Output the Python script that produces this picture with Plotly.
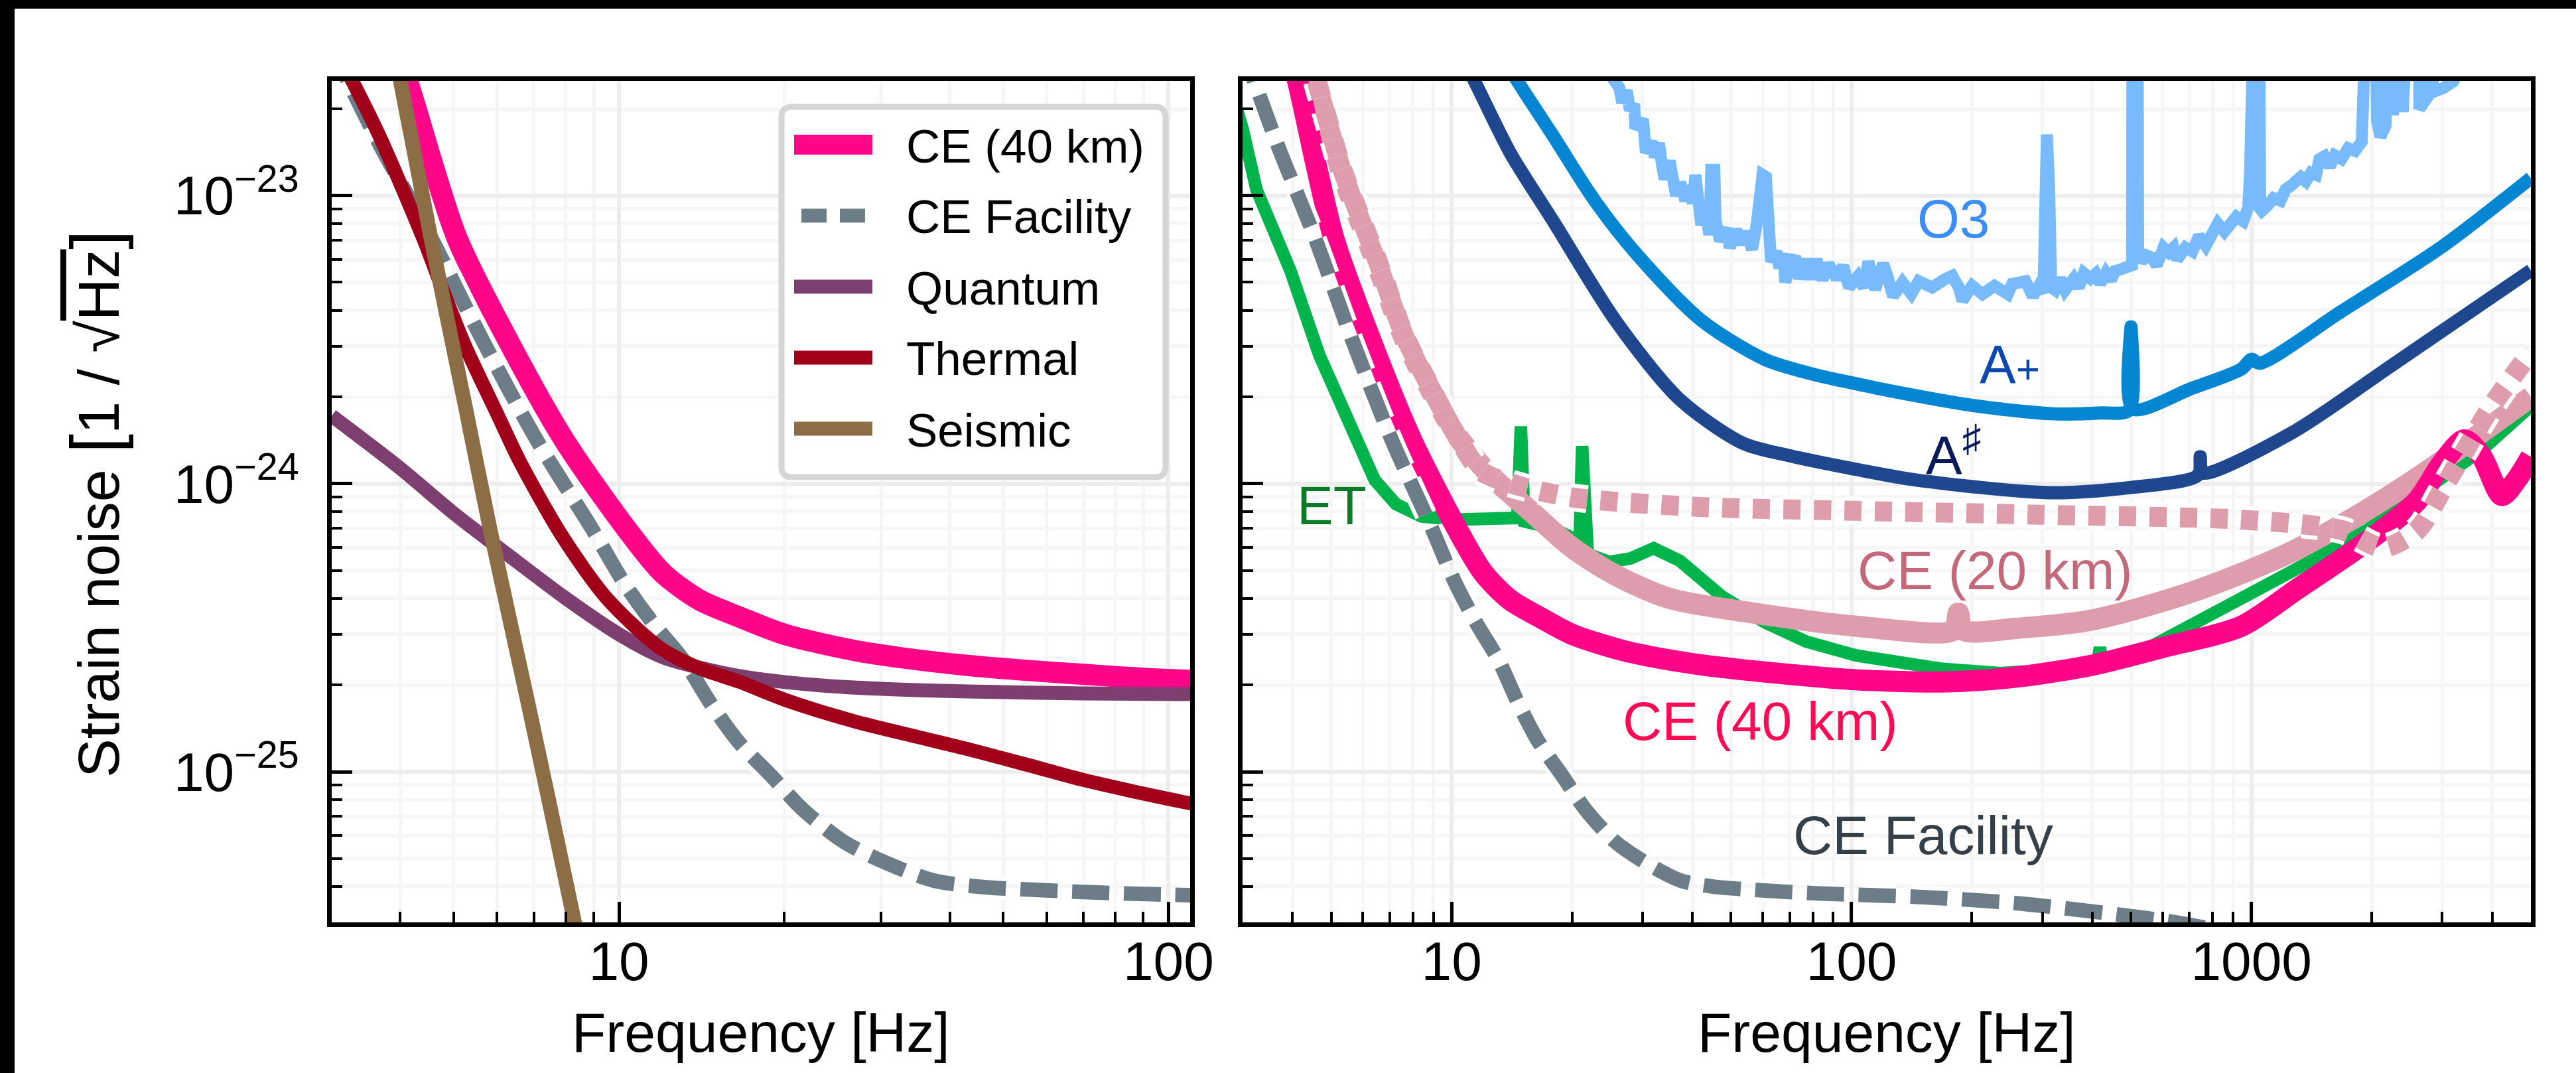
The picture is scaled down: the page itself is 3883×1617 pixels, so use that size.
import math
import plotly.graph_objects as go

W, H = 3883, 1617

# ---------------- data ----------------
# Left panel: CE (40 km) noise budget
ce40_f = [3.9, 4.12, 5.06, 6.25, 7.94, 10.3, 12.0, 14.0, 16.6, 20.0, 26.7, 33.0, 43.0, 55.0, 69.5, 100.0,
          167.0, 250.0, 398.0, 600.0, 944.0, 1300.0, 1946.0, 2594.0, 3000.0, 3411.0, 3770.0, 4230.0, 4600.0, 5000.0]
ce40_h = [3.3e-23, 2.5e-23, 7.2e-24, 3.2e-24, 1.42e-24, 7.0e-25, 4.9e-25, 3.95e-25, 3.44e-25, 3.0e-25, 2.64e-25,
          2.48e-25, 2.34e-25, 2.25e-25, 2.18e-25, 2.09e-25, 2.05e-25, 2.12e-25, 2.34e-25, 2.7e-25, 3.2e-25, 4.3e-25,
          6.3e-25, 8.7e-25, 1.18e-24, 1.42e-24, 1.24e-24, 9.1e-25, 1.03e-24, 1.24e-24]

cefac_f = [3.0, 3.21, 3.67, 4.54, 5.62, 7.08, 8.92, 10.2, 11.5, 13.1, 14.7, 16.5, 19.0, 21.6, 25.7, 30.6, 37.4,
           45.9, 55.6, 68.5, 83.5, 102.0, 145.0, 257.0, 458.0, 648.0, 900.0]
cefac_h = [3.3e-23, 2.5e-23, 1.5e-23, 7.2e-24, 3.2e-24, 1.42e-24, 7.0e-25, 4.54e-25, 3.3e-25, 2.44e-25, 1.72e-25,
           1.27e-25, 9.6e-26, 7.4e-26, 5.7e-26, 4.83e-26, 4.19e-26, 3.98e-26, 3.9e-26, 3.83e-26, 3.78e-26, 3.74e-26,
           3.68e-26, 3.5e-26, 3.2e-26, 3.0e-26, 2.75e-26]

quantum_f = [3.0, 4.0, 5.0, 6.25, 8.0, 10.0, 12.0, 14.0, 17.0, 22.8, 30.0, 43.0, 70.0, 110.0]
quantum_h = [1.72e-24, 1.13e-24, 7.9e-25, 5.7e-25, 4.0e-25, 3.0e-25, 2.5e-25, 2.3e-25, 2.13e-25, 2.0e-25,
             1.94e-25, 1.9e-25, 1.87e-25, 1.86e-25]

thermal_f = [3.0, 3.27, 3.67, 4.39, 4.8, 5.25, 6.0, 6.59, 7.87, 9.5, 11.85, 13.9, 16.6, 20.0, 26.7, 35.0, 43.0,
             55.0, 69.5, 85.0, 110.0]
thermal_h = [3.4e-23, 2.5e-23, 1.6e-23, 7.2e-24, 4.6e-24, 3.0e-24, 1.75e-24, 1.2e-24, 6.6e-25, 4.0e-25, 2.7e-25,
             2.3e-25, 2.05e-25, 1.78e-25, 1.5e-25, 1.32e-25, 1.2e-25, 1.06e-25, 9.4e-26, 8.6e-26, 7.75e-26]

seismic_f = [3.8, 4.0, 4.54, 5.25, 5.83, 6.83, 8.3, 8.7]
seismic_h = [4.0e-23, 2.5e-23, 7.2e-24, 1.86e-24, 6.9e-25, 1.73e-25, 3.0e-26, 1.9e-26]

# Right panel: detector comparison
o3_f = [22.0, 25.2, 26.3, 26.7, 27.4, 27.9, 28.6, 28.8, 30.1, 30.6, 31.7, 32.2, 33.0, 33.6, 34.1, 35.1, 35.7,
        36.4, 37.3, 38.4, 39.2, 40.1, 40.7, 41.3, 42.1, 43.1, 44.1, 44.6, 45.4, 45.7, 46.9, 48.6, 49.6, 51.5,
        53.5, 54.7, 56.4, 57.9, 58.9, 59.9, 61.1, 61.9, 62.9, 64.9, 66.0, 67.5, 68.3, 70.3, 72.3, 74.0, 76.6,
        79.0, 81.7, 84.6, 87.5, 91.8, 95.3, 98.6, 103.8, 107.4, 110.2, 114.6, 120.0, 123.1, 127.0, 134.1, 141.1,
        147.3, 159.1, 170.3, 178.6, 185.5, 189.4, 200.3, 212.6, 227.7, 245.9, 252.3, 272.4, 284.2, 294.1, 302.0,
        305.0, 308.0, 312.0, 316.0, 323.0, 332.5, 342.0, 359.5, 370.0, 381.0, 396.0, 408.0, 418.7, 432.8, 445.6,
        456.0, 472.0, 491.0, 503.0, 505.0, 518.0, 521.0, 531.0, 547.0, 563.0, 580.0, 603.0, 621.0, 639.0, 652.0,
        684.0, 712.0, 740.0, 769.0, 800.0, 824.0, 856.0, 882.0, 917.0, 954.0, 982.0, 992.0, 1015.0, 1040.0,
        1052.0, 1062.0, 1094.0, 1137.0, 1182.0, 1217.0, 1253.0, 1290.0, 1329.0, 1368.0, 1409.0, 1451.0, 1480.0,
        1523.0, 1569.0, 1616.0, 1680.0, 1747.0, 1816.0, 1888.0, 1905.0, 2010.0, 2062.0, 2102.0, 2165.0, 2186.0,
        2230.0, 2260.0, 2300.0, 2350.0, 2390.0, 2430.0, 2600.0, 2631.0, 2709.0, 2790.0, 2817.0, 2873.0, 3016.0,
        3198.0, 3325.0]
o3_h = [3.4e-23, 2.49e-23, 2.36e-23, 2.10e-23, 2.32e-23, 1.98e-23, 2.08e-23, 1.71e-23, 1.84e-23, 1.41e-23,
        1.54e-23, 1.36e-23, 1.52e-23, 1.27e-23, 1.14e-23, 1.32e-23, 1.12e-23, 1.00e-23, 1.11e-23, 9.6e-24,
        1.08e-23, 9.4e-24, 1.18e-23, 9.1e-24, 7.9e-24, 9.1e-24, 7.3e-24, 1.23e-23, 1.23e-23, 8.2e-24, 6.96e-24,
        7.7e-24, 6.6e-24, 7.6e-24, 6.8e-24, 7.5e-24, 6.5e-24, 7.9e-24, 9.1e-24, 1.18e-23, 1.16e-23, 7.6e-24,
        5.9e-24, 6.4e-24, 5.6e-24, 6.3e-24, 5.0e-24, 5.8e-24, 6.15e-24, 5.15e-24, 6.0e-24, 5.15e-24, 6.0e-24,
        5.1e-24, 5.8e-24, 5.15e-24, 5.7e-24, 4.8e-24, 5.24e-24, 4.8e-24, 5.9e-24, 4.72e-24, 5.8e-24, 5.24e-24,
        4.47e-24, 5.0e-24, 4.56e-24, 5.05e-24, 4.8e-24, 5.1e-24, 5.27e-24, 4.8e-24, 4.32e-24, 4.86e-24, 4.55e-24,
        4.86e-24, 4.55e-24, 4.94e-24, 5.04e-24, 4.47e-24, 4.86e-24, 4.6e-24, 1.63e-23, 1.63e-23, 1.07e-23,
        4.8e-24, 4.7e-24, 5.15e-24, 4.7e-24, 5.15e-24, 4.8e-24, 5.38e-24, 5.15e-24, 5.35e-24, 4.95e-24, 5.4e-24,
        5.1e-24, 5.47e-24, 5.55e-24, 5.73e-24, 5.73e-24, 2e-22, 2e-22, 6.4e-24, 5.9e-24, 6.2e-24, 6.1e-24,
        5.73e-24, 6.6e-24, 6.35e-24, 6.6e-24, 6.0e-24, 6.6e-24, 6.4e-24, 7.25e-24, 6.7e-24, 7.4e-24, 8.0e-24,
        7.5e-24, 7.85e-24, 8.45e-24, 8.15e-24, 9.1e-24, 1.2e-23, 2e-22, 2e-22, 9.0e-24, 8.85e-24, 9.2e-24,
        9.8e-24, 9.6e-24, 1.05e-23, 1.08e-23, 1.12e-23, 1.16e-23, 1.12e-23, 1.2e-23, 1.18e-23, 1.34e-23,
        1.37e-23, 1.26e-23, 1.38e-23, 1.34e-23, 1.46e-23, 1.43e-23, 1.54e-23, 2e-22, 2e-22, 1.81e-23, 1.6e-23,
        1.75e-23, 2e-22, 2e-22, 1.9e-23, 2e-22, 2e-22, 1.95e-23, 2e-22, 2e-22, 2.0e-23, 2.17e-23, 2.25e-23,
        2.6e-23, 2.3e-23, 2.36e-23, 2.49e-23, 2.8e-23]

aplus_f = [13.5, 14.6, 17.9, 22.8, 29.2, 42.0, 60.7, 80.0, 103.0, 125.0, 200.0, 315.0, 420.0, 495.0, 500.0,
           505.0, 708.0, 944.0, 1000.0, 1050.0, 1683.0, 3000.0, 5000.0]
aplus_h = [3.0e-23, 2.5e-23, 1.62e-23, 9.6e-24, 6.2e-24, 3.7e-24, 2.7e-24, 2.4e-24, 2.22e-24, 2.1e-24, 1.87e-24,
           1.75e-24, 1.76e-24, 1.8e-24, 3.5e-24, 1.82e-24, 2.14e-24, 2.5e-24, 2.7e-24, 2.62e-24, 3.97e-24,
           6.65e-24, 1.15e-23]

asharp_f = [10.5, 11.4, 14.0, 17.9, 25.8, 37.2, 53.6, 70.0, 103.0, 145.0, 315.0, 500.0, 735.0, 745.0, 755.0,
            1260.0, 2240.0, 5000.0]
asharp_h = [3.1e-23, 2.5e-23, 1.41e-23, 8.2e-24, 3.65e-24, 1.96e-24, 1.38e-24, 1.25e-24, 1.12e-24, 1.03e-24,
            9.3e-25, 9.7e-25, 1.07e-24, 1.24e-24, 1.09e-24, 1.5e-24, 2.57e-24, 5.5e-24]

et_f = [2.9, 3.0, 3.25, 3.95, 4.67, 5.67, 6.42, 7.25, 8.4, 10.2, 12.0, 14.3, 14.6, 14.9, 15.2, 17.9, 20.2, 20.9,
        21.2, 21.5, 21.9, 24.8, 28.0, 32.0, 37.2, 47.4, 60.7, 77.0, 103.0, 167.0, 237.0, 300.0, 412.0, 418.0,
        424.0, 500.0, 708.0, 1000.0, 1260.0, 1946.0, 2600.0, 3000.0, 3770.0, 5000.0]
et_h = [2.0e-23, 1.71e-23, 1.05e-23, 5.5e-24, 2.79e-24, 1.5e-24, 1.03e-24, 8.5e-25, 7.7e-25, 7.5e-25, 7.5e-25,
        7.5e-25, 7.6e-25, 1.58e-24, 7.4e-25, 7.0e-25, 6.5e-25, 6.3e-25, 1.35e-24, 6.1e-25, 5.7e-25, 5.35e-25,
        5.5e-25, 5.97e-25, 5.4e-25, 4.06e-25, 3.3e-25, 2.83e-25, 2.53e-25, 2.28e-25, 2.2e-25, 2.25e-25, 2.38e-25,
        2.7e-25, 2.4e-25, 2.5e-25, 3.2e-25, 4.2e-25, 4.95e-25, 6.9e-25, 9.0e-25, 1.05e-24, 1.31e-24, 1.86e-24]

ce20_f = [4.3, 4.56, 5.27, 5.67, 6.59, 7.61, 8.82, 10.2, 12.4, 15.8, 20.0, 25.8, 35.0, 53.6, 103.0, 180.0,
          185.0, 190.0, 260.0, 398.0, 708.0, 1260.0, 2000.0, 3000.0, 4000.0, 5000.0]
ce20_h = [3.3e-23, 2.5e-23, 1.24e-23, 9.4e-24, 5.5e-24, 3.2e-24, 2.14e-24, 1.5e-24, 1.08e-24, 8.0e-25, 6.0e-25,
          4.8e-25, 4.0e-25, 3.6e-25, 3.2e-25, 3.1e-25, 3.55e-25, 3.1e-25, 3.15e-25, 3.36e-25, 4.2e-25, 5.8e-25,
          8.3e-25, 1.2e-24, 1.6e-24, 2.0e-24]

ce20pm_f = [4.6, 5.3, 5.7, 6.6, 7.6, 8.8, 10.2, 11.8, 14.3, 20.2, 42.0, 103.0, 297.0, 944.0, 1683.0, 2130.0,
            2600.0, 3000.0, 3990.0, 5000.0]
ce20pm_h = [2.5e-23, 1.26e-23, 9.6e-24, 5.7e-24, 3.3e-24, 2.2e-24, 1.5e-24, 1.11e-24, 9.95e-25, 8.95e-25,
            8.3e-25, 8.05e-25, 7.8e-25, 7.5e-25, 6.9e-25, 6.0e-25, 6.9e-25, 9.5e-25, 1.86e-24, 2.86e-24]

legend_labels = ["CE (40 km)", "CE Facility", "Quantum", "Thermal", "Seismic"]
x_ticks_left = [10, 100]
x_ticks_right = [10, 100, 1000]
y_ticks = [1e-25, 1e-24, 1e-23]
y_ticktext = ["10<sup>\u221225</sup>", "10<sup>\u221224</sup>", "10<sup>\u221223</sup>"]

# ---------------- styling ----------------
C_CE40 = "#FF058A"
C_FAC = "#6C7D87"
C_QUANT = "#7D3F6F"
C_THERM = "#A0001A"
C_SEIS = "#8C6D46"
C_O3 = "#78BBFC"
C_APLUS = "#0586D2"
C_ASHARP = "#1F478E"
C_ET = "#00B44C"
C_CE20 = "#DE9DAC"
FONT = "Liberation Sans, Arial, Helvetica, sans-serif"

fig = go.Figure()


def add(x, y, color, width, axes, dash="solid", shape="spline", halo=False):
    xa, ya = axes
    if halo:
        fig.add_trace(go.Scatter(x=x, y=y, mode="lines", xaxis=xa, yaxis=ya, hoverinfo="skip",
                                 line=dict(color="white", width=width + 12, dash=dash, shape=shape, smoothing=0.8),
                                 showlegend=False))
    fig.add_trace(go.Scatter(x=x, y=y, mode="lines", xaxis=xa, yaxis=ya,
                             line=dict(color=color, width=width, dash=dash, shape=shape, smoothing=0.8),
                             showlegend=False))


L = ("x", "y")
R = ("x2", "y2")
FAC_DASH = "56px,22px"
DOT_DASH = "26px,20px"

# left panel
add(ce40_f, ce40_h, C_CE40, 32, L)
add(cefac_f, cefac_h, C_FAC, 22, L, dash=FAC_DASH, halo=True)
add(quantum_f, quantum_h, C_QUANT, 21, L)
add(thermal_f, thermal_h, C_THERM, 21, L)
add(seismic_f, seismic_h, C_SEIS, 22, L)

# right panel
add(o3_f, o3_h, C_O3, 18, R, shape="linear")
add(aplus_f, aplus_h, C_APLUS, 20, R)
add(asharp_f, asharp_h, C_ASHARP, 20, R)
add(et_f, et_h, C_ET, 19, R, shape="linear")
add(ce20_f, ce20_h, C_CE20, 32, R)
add(ce40_f, ce40_h, C_CE40, 32, R)
add(ce20pm_f, ce20pm_h, C_CE20, 30, R, dash=DOT_DASH, halo=True)
add(cefac_f, cefac_h, C_FAC, 22, R, dash=FAC_DASH, halo=True)


def px(x):
    return x / W


def py(y):
    return 1 - y / H


minor_y = [k * 10.0 ** e for e in (-26, -25, -24, -23) for k in range(2, 10)]
minor_y = [v for v in minor_y if 3e-26 <= v <= 2.5e-23]
minor_xl = [k * 10.0 ** e for e in (0, 1) for k in range(2, 10) if 3 < k * 10.0 ** e < 110]
minor_xr = [k * 10.0 ** e for e in (0, 1, 2, 3) for k in range(2, 10) if 3 < k * 10.0 ** e < 5000]

axis_common = dict(type="log", showline=True, linecolor="black", linewidth=7, mirror=True,
                   ticks="inside", ticklen=31, tickwidth=5, tickcolor="black",
                   tickfont=dict(size=82, family=FONT, color="black"),
                   showgrid=True, gridcolor="#EDEDED", gridwidth=6, zeroline=False, automargin=False)


def minor(vals):
    return dict(tickmode="array", tickvals=vals, ticks="inside", ticklen=16, tickwidth=4, tickcolor="black",
                showgrid=True, gridcolor="#F6F6F6", gridwidth=5)


ydom = [py(1390), py(122)]
yrange = [math.log10(3e-26), math.log10(2.5e-23)]

fig.update_layout(
    width=W, height=H, margin=dict(l=0, r=0, t=0, b=0), template="none",
    paper_bgcolor="white", plot_bgcolor="white", showlegend=False,
    font=dict(family=FONT, color="black"),
    xaxis=dict(axis_common, domain=[px(500), px(1794)], range=[math.log10(3), math.log10(109.5)],
               tickmode="array", tickvals=x_ticks_left, ticktext=[str(v) for v in x_ticks_left],
               minor=minor(minor_xl), anchor="y", ticklabelstandoff=-18),
    yaxis=dict(axis_common, domain=ydom, range=yrange, tickmode="array", tickvals=y_ticks, ticktext=y_ticktext,
               minor=minor(minor_y), anchor="x", ticklabelstandoff=26),
    xaxis2=dict(axis_common, domain=[px(1873), px(3815)], range=[math.log10(3), math.log10(5000)],
                tickmode="array", tickvals=x_ticks_right, ticktext=[str(v) for v in x_ticks_right],
                minor=minor(minor_xr), anchor="y2", ticklabelstandoff=-18),
    yaxis2=dict(axis_common, domain=ydom, range=yrange, tickmode="array", tickvals=y_ticks,
                showticklabels=False, minor=minor(minor_y), anchor="x2"),
)

shapes = []
annotations = []

# legend box (rounded)
lx0, lx1, ly0, ly1, r = 1178, 1757, 161, 719, 16
path = (f"M {px(lx0 + r)} {py(ly0)} L {px(lx1 - r)} {py(ly0)} Q {px(lx1)} {py(ly0)} {px(lx1)} {py(ly0 + r)} "
        f"L {px(lx1)} {py(ly1 - r)} Q {px(lx1)} {py(ly1)} {px(lx1 - r)} {py(ly1)} "
        f"L {px(lx0 + r)} {py(ly1)} Q {px(lx0)} {py(ly1)} {px(lx0)} {py(ly1 - r)} "
        f"L {px(lx0)} {py(ly0 + r)} Q {px(lx0)} {py(ly0)} {px(lx0 + r)} {py(ly0)} Z")
shapes.append(dict(type="path", xref="paper", yref="paper", path=path, fillcolor="white",
                   line=dict(color="#D6D6D6", width=9), layer="above"))
leg_colors = [C_CE40, C_FAC, C_QUANT, C_THERM, C_SEIS]
leg_widths = [30, 21, 21, 21, 21]
leg_y = [218, 325, 432, 539, 646]
for lab, col, lw, yy in zip(legend_labels, leg_colors, leg_widths, leg_y):
    if lab == "CE Facility":
        shapes.append(dict(type="line", xref="paper", yref="paper", x0=px(1208), x1=px(1304), y0=py(yy), y1=py(yy),
                           line=dict(color=col, width=lw, dash="38px,20px"), layer="above"))
    else:
        shapes.append(dict(type="line", xref="paper", yref="paper", x0=px(1197), x1=px(1315), y0=py(yy), y1=py(yy),
                           line=dict(color=col, width=lw), layer="above"))
    annotations.append(dict(xref="paper", yref="paper", x=px(1364), y=py(yy + 2), text=lab, showarrow=False,
                            xanchor="left", yanchor="middle", font=dict(size=71, family=FONT, color="black")))

# black bands at the image border
shapes.append(dict(type="rect", xref="paper", yref="paper", x0=0, x1=px(22), y0=0, y1=1,
                   fillcolor="black", line=dict(width=0), layer="above"))
shapes.append(dict(type="rect", xref="paper", yref="paper", x0=0, x1=1, y0=py(13), y1=1,
                   fillcolor="black", line=dict(width=0), layer="above"))

# axis titles
for cx in (1147, 2844):
    annotations.append(dict(xref="paper", yref="paper", x=px(cx), y=py(1556), text="Frequency [Hz]",
                            showarrow=False, xanchor="center", yanchor="middle",
                            font=dict(size=84, family=FONT, color="black")))
annotations.append(dict(xref="paper", yref="paper", x=px(143), y=py(760), textangle=-90,
                        text="Strain noise <span style='font-size:104px'>[</span>1 / \u221a"
                             "<span style='text-decoration:overline'>Hz</span>"
                             "<span style='font-size:104px'>]</span>",
                        showarrow=False, xanchor="center", yanchor="middle",
                        font=dict(size=88, family=FONT, color="black")))

# curve labels (right panel, log coordinates)
labels = [
    ("O3", 179.5, 8.3e-24, "#3A8EF6"),
    ("A<span style='font-size:62px'>+</span>", 249.0, 2.61e-24, "#0A48AE"),
    ("A<sup>\u266f</sup>", 179.5, 1.30e-24, "#0B1B5A"),
    ("ET", 5.02, 8.4e-25, "#0B7B27"),
    ("CE (20 km)", 229.0, 4.99e-25, "#C4697B"),
    ("CE (40 km)", 59.2, 1.5e-25, "#FF0A55"),
    ("CE Facility", 151.0, 6.04e-26, "#343F48"),
]
for txt, fx, hy, col in labels:
    annotations.append(dict(xref="x2", yref="y2", x=math.log10(fx), y=math.log10(hy), text=txt, showarrow=False,
                            xanchor="center", yanchor="middle", font=dict(size=82, family=FONT, color=col)))

fig.update_layout(shapes=shapes, annotations=annotations)
fig.write_html("out.html")
